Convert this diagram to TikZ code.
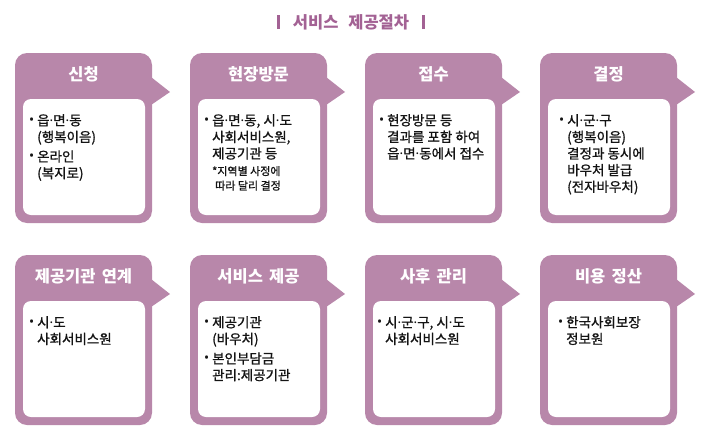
\documentclass[tikz,border=0pt]{standalone}
\usepackage{fontspec}
\newfontfamily\kr{Noto Sans CJK KR}
\newfontfamily\krbody{Noto Sans CJK KR}[FakeBold=1]
\newfontfamily\lat{Noto Sans}
\usetikzlibrary{positioning}
\definecolor{cardpurple}{RGB}{184,135,170}
\definecolor{headpurple}{RGB}{163,98,148}
\definecolor{bodytext}{RGB}{20,20,20}

% bullet, middle dot and hanging indent
\newcommand\bul{\makebox[8pt][l]{\raisebox{0.8pt}{\lat\fontsize{13.5}{13.5}\selectfont•}}}
\newcommand\md{{\lat·}}
\newcommand\ind{\hspace*{8pt}}

% card: x, y, name, title, body x-offset, body
\newcommand\card[6]{%
  \fill[cardpurple, rounded corners=12pt] (#1,#2) rectangle ++(137,170);
  \fill[cardpurple] (#1+136,#2+24) -- (#1+155,#2+39) -- (#1+136,#2+52) -- cycle;
  \fill[white, rounded corners=8pt] (#1+8,#2+46) rectangle (#1+130,#2+162);
  \node[cardtitle] (#3) at (#1+68.5,#2+21) {#4};
  \node[cardbody] (#3-body) at (#1+#5,#2+61) {#6};
}

\begin{document}
\begin{tikzpicture}[x=1pt,y=-1pt]
  \tikzset{
    heading/.style={font=\kr\bfseries\fontsize{16.5}{17}\selectfont, text=headpurple, inner sep=0pt},
    cardtitle/.style={font=\kr\bfseries\fontsize{16.5}{17}\selectfont, text=white, inner sep=0pt},
    cardbody/.style={anchor=north west, inner sep=0pt, align=left,
      font=\krbody\fontsize{13.5}{16.6}\selectfont, text=bodytext},
  }
  \useasboundingbox (0,0) rectangle (702,442);

  \node[heading] (head) at (351,22) {\rule[-1pt]{3pt}{14pt}\hspace{13pt}서비스\hspace{0.6em}제공절차\hspace{13pt}\rule[-1pt]{3pt}{14pt}};

  % first row
  \card{15}{53}{apply}{신청}{14}{\bul 읍\md 면\md 동\\\ind(행복이음)\\[3pt]\bul 온라인\\\ind(복지로)}
  \card{190}{53}{visit}{현장방문}{14}{\bul 읍\md 면\md 동, 시\md 도\\\ind 사회서비스원,\\\ind 제공기관 등\\
    \ind{\fontsize{11}{15}\selectfont *지역별 사정에}\\[-2pt]\ind\hspace*{3pt}{\fontsize{11}{15}\selectfont 따라 달리 결정}}
  \card{365}{53}{receipt}{접수}{14}{\bul 현장방문 등\\\ind 결과를 포함 하여\\\ind 읍\md 면\md 동에서 접수}
  \card{540}{53}{decide}{결정}{19}{\bul 시\md 군\md 구\\\ind(행복이음)\\\ind 결정과 동시에\\\ind 바우처 발급\\\ind(전자바우처)}

  % second row
  \card{15}{255}{link}{제공기관\hspace{0.15em} 연계}{14}{\bul 시\md 도\\\ind 사회서비스원}
  \card{190}{255}{serve}{서비스\hspace{0.15em} 제공}{14}{\bul 제공기관\\\ind(바우처)\\[3pt]\bul 본인부담금\\\ind 관리:제공기관}
  \card{365}{255}{manage}{사후\hspace{0.15em} 관리}{12}{\bul 시\md 군\md 구, 시\md 도\\\ind 사회서비스원}
  \card{540}{255}{settle}{비용\hspace{0.15em} 정산}{18}{\bul 한국사회보장\\\ind 정보원}
\end{tikzpicture}
\end{document}
